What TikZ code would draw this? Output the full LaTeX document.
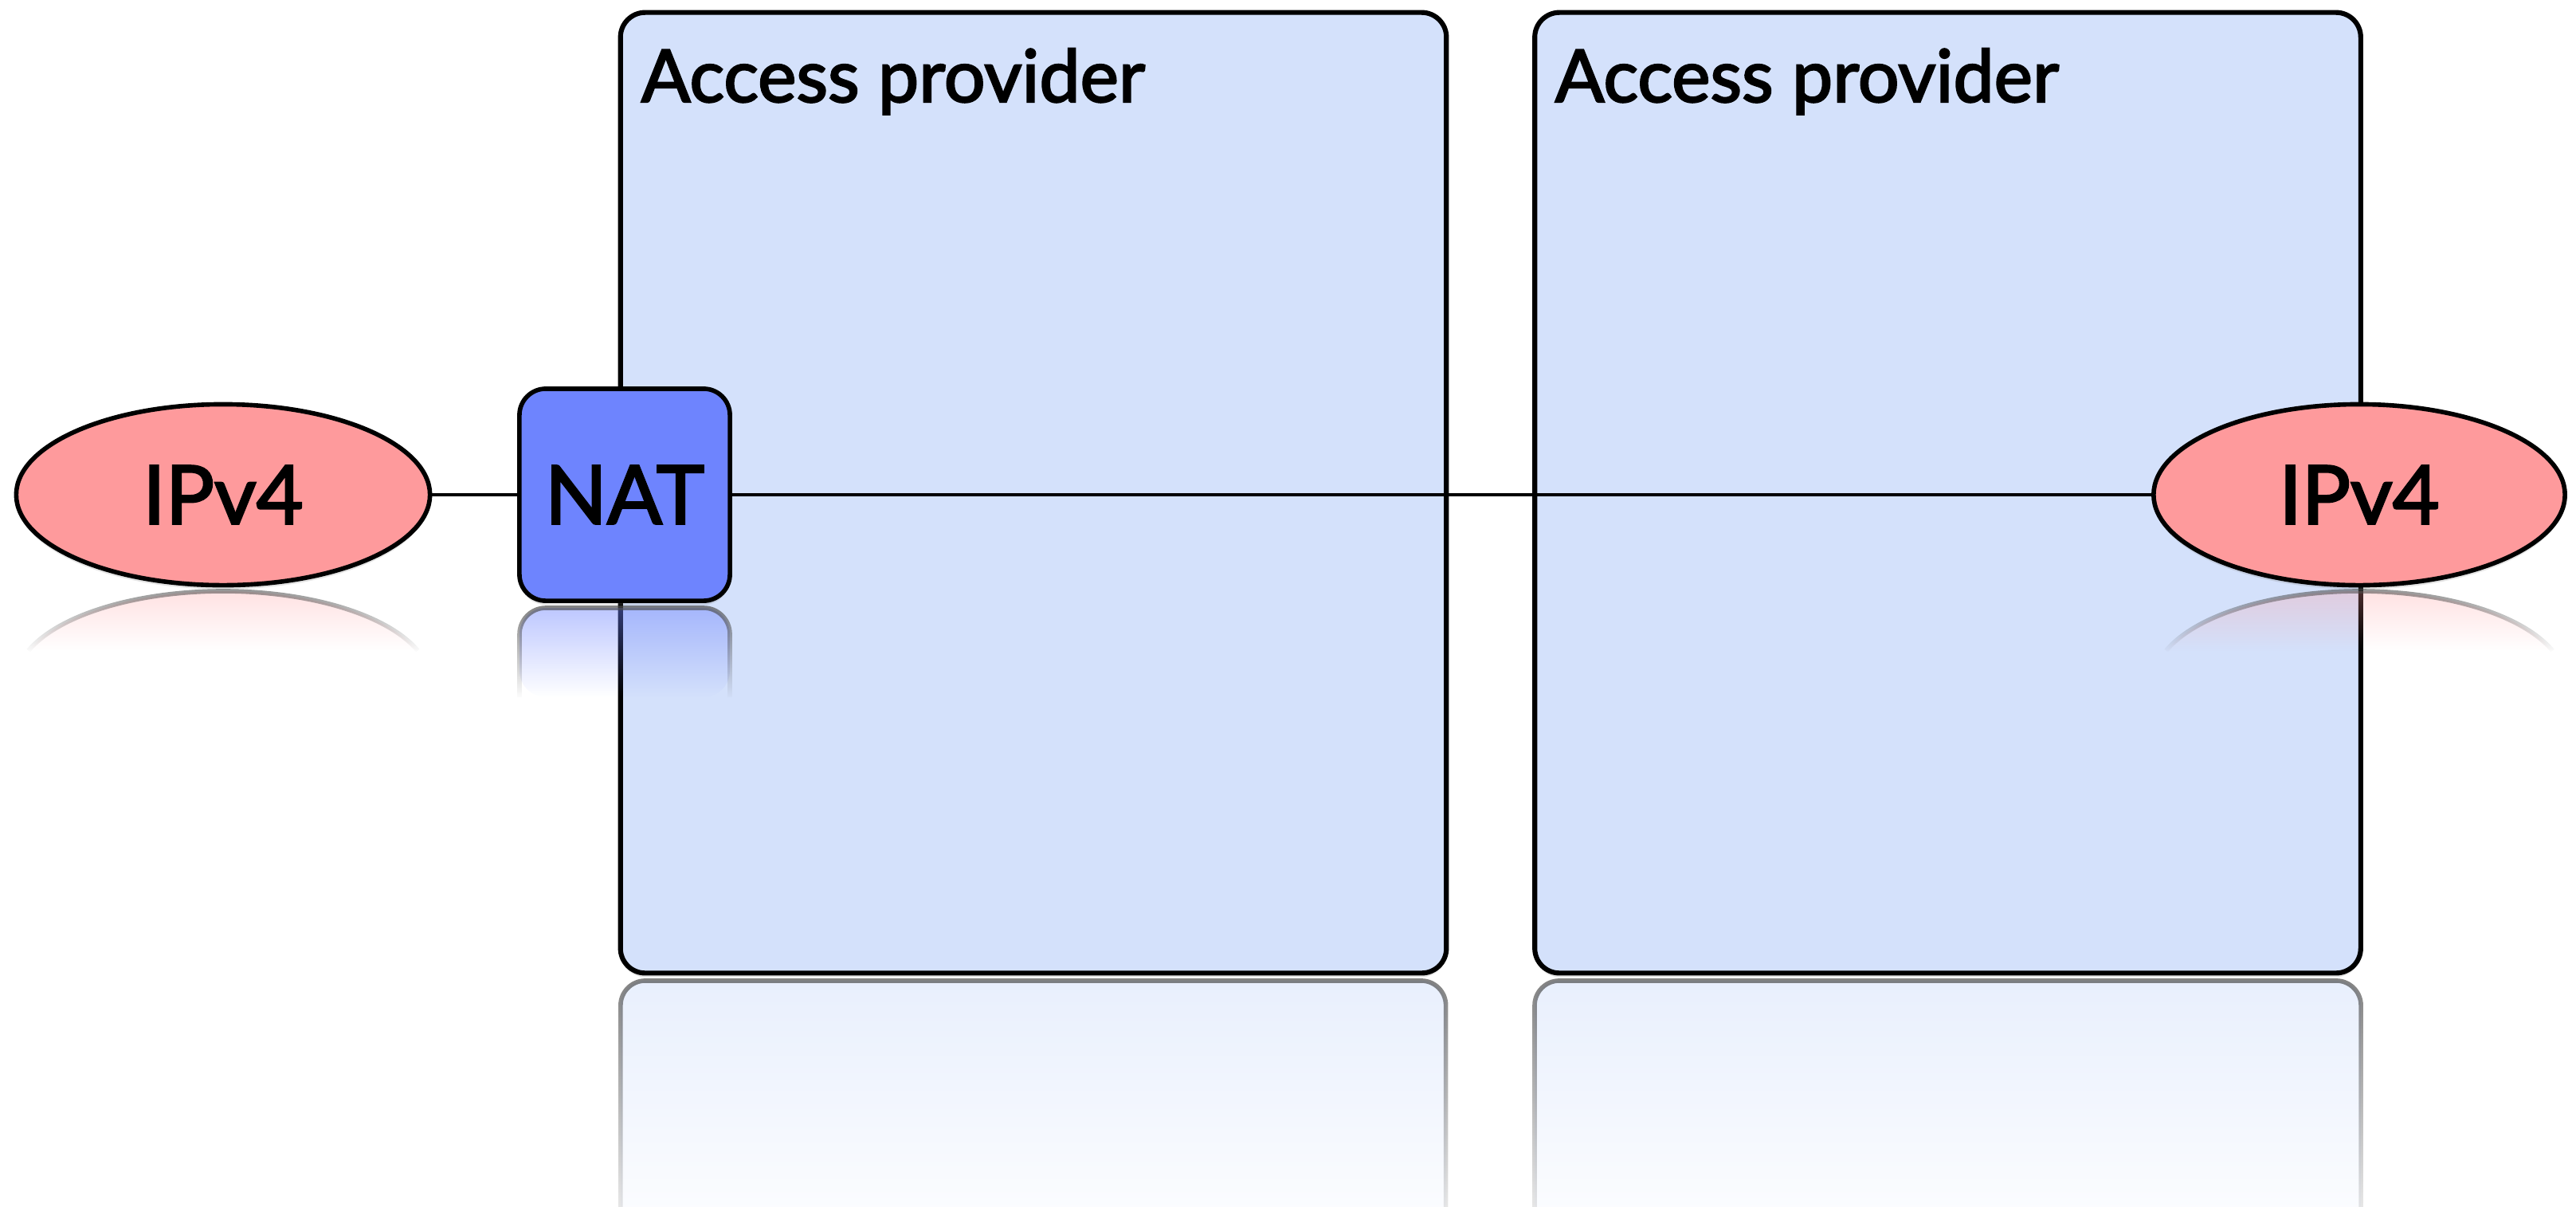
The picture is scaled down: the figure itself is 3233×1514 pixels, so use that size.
\documentclass[tikz,border=0pt]{standalone}
\usepackage{fontspec}
\setmainfont{Lato}
\newfontfamily\diagfont{Lato}[FakeBold=2.5]
\usetikzlibrary{shapes.geometric,fadings,shadows}
\definecolor{apfill}{HTML}{D4E1FB}
\definecolor{ipfill}{HTML}{FE9A9C}
\definecolor{natfill}{HTML}{6E84FE}
\tikzfading[name=reflfade, top color=transparent!30, bottom color=transparent!100]
\tikzfading[name=boxfade, top color=transparent!30, bottom color=transparent!92]
\begin{document}
\begin{tikzpicture}[x=0.01cm, y=-0.01cm,
  softshadow/.style={drop shadow={opacity=0.22, shadow xshift=0pt, shadow yshift=-0.05cm}},
  apbox/.style={draw=black, line width=1.75pt, fill=apfill, rounded corners=0.31cm,
    minimum width=10.36cm, minimum height=12.05cm, inner sep=0pt, outer sep=0pt, softshadow},
  aplabel/.style={font=\diagfont\fontsize{26pt}{30pt}\selectfont, inner sep=0pt, anchor=base west},
  ipv4/.style={ellipse, draw=black, line width=1.6pt, fill=ipfill, minimum width=5.19cm,
    minimum height=2.27cm, inner sep=0pt, outer sep=0pt, font=\diagfont\fontsize{29pt}{34pt}\selectfont, softshadow},
  natbox/.style={draw=black, line width=1.6pt, fill=natfill, rounded corners=0.33cm,
    minimum width=2.64cm, minimum height=2.66cm, inner sep=0pt, outer sep=0pt,
    font=\diagfont\fontsize{29pt}{34pt}\selectfont, softshadow},
  conn/.style={line width=1.35pt, draw=black},
  reflline/.style={line width=1.6pt, draw=black!70}]
\useasboundingbox (0,0) rectangle (3233,1514);

% access provider boxes
\node[apbox] (ap1) at (1297,618.5) {};
\node[apbox] (ap2) at (2444.5,618.5) {};

% box reflections
\fill[apfill, fill opacity=0.75, path fading=boxfade, rounded corners=0.31cm]
  (779,1540) -- (779,1231) -- (1815,1231) -- (1815,1540) -- cycle;
\draw[reflline, path fading=boxfade, rounded corners=0.31cm]
  (779,1540) -- (779,1231) -- (1815,1231) -- (1815,1540);
\fill[apfill, fill opacity=0.75, path fading=boxfade, rounded corners=0.31cm]
  (1926,1540) -- (1926,1231) -- (2963,1231) -- (2963,1540) -- cycle;
\draw[reflline, path fading=boxfade, rounded corners=0.31cm]
  (1926,1540) -- (1926,1231) -- (2963,1231) -- (2963,1540);

% labels
\node[aplabel] (ap1label) at (804,128) {Access provider};
\node[aplabel] (ap2label) at (1951,128) {Access provider};

% IPv4 clouds and NAT
\node[ipv4] (ipl) at (280,621) {IPv4};
\node[ipv4, minimum width=5.16cm] (ipr) at (2961,621) {IPv4};
\node[natbox] (nat) at (784,621) {NAT};

% connectors
\draw[conn] (ipl) -- (nat);
\draw[conn] (nat) -- (ipr);

% reflections of ellipses and NAT
\fill[ipfill, fill opacity=0.5, path fading=reflfade]
  (35.7,816.7) arc[start angle=200, end angle=340, x radius=260, y radius=113.5] -- cycle;
\draw[reflline, path fading=reflfade]
  (35.7,816.7) arc[start angle=200, end angle=340, x radius=260, y radius=113.5];
\fill[ipfill, fill opacity=0.5, path fading=reflfade]
  (2718.6,816.7) arc[start angle=200, end angle=340, x radius=258, y radius=113.5] -- cycle;
\draw[reflline, path fading=reflfade]
  (2718.6,816.7) arc[start angle=200, end angle=340, x radius=258, y radius=113.5];
\fill[natfill, fill opacity=0.65, path fading=reflfade, rounded corners=0.33cm]
  (652,875) -- (652,763) -- (916,763) -- (916,875) -- cycle;
\draw[reflline, path fading=reflfade, rounded corners=0.33cm]
  (652,875) -- (652,763) -- (916,763) -- (916,875);
\end{tikzpicture}
\end{document}
